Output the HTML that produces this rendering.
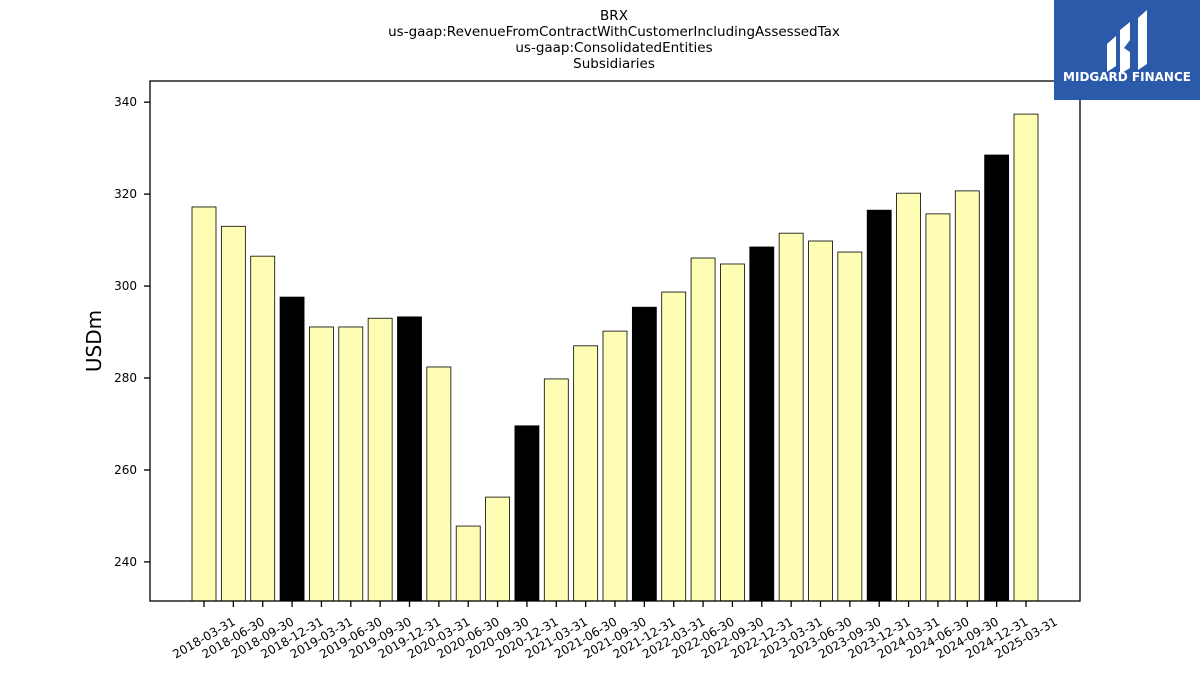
<!DOCTYPE html>
<html><head><meta charset="utf-8"><style>
body{margin:0;background:#fff;font-family:"DejaVu Sans","Liberation Sans",sans-serif}
</style></head><body>
<svg width="1200" height="675" viewBox="0 0 1200 675" style="display:block">
<g font-size="13.5" text-anchor="middle" fill="#000">
<text x="614" y="20">BRX</text>
<text x="614" y="36">us-gaap:RevenueFromContractWithCustomerIncludingAssessedTax</text>
<text x="614" y="52">us-gaap:ConsolidatedEntities</text>
<text x="614" y="68">Subsidiaries</text>
</g>
<g id="bars"></g>
<rect x="150" y="81" width="930" height="520" fill="none" stroke="#000" stroke-width="1.3"/>
<g id="yaxis"></g>
<g id="xaxis"></g>
<text x="101" y="341" font-size="20" text-anchor="middle" transform="rotate(-90 101 341)">USDm</text>
<g>
<rect x="1054" y="0" width="146" height="100" fill="#2c5aab"/>
<path d="M1107 44 L1116 36 L1116 66 L1107 72 Z" fill="#fff"/>
<path d="M1120 30 L1130 22 L1130 40 L1124 48 L1130 52 L1130 68 L1120 74 Z" fill="#fff"/>
<path d="M1138 18 L1147 10 L1147 64 L1138 70 Z" fill="#fff"/>
<text x="1127" y="81" font-size="12" font-weight="bold" fill="#fff" text-anchor="middle">MIDGARD FINANCE</text>
</g>
</svg>
<script>
const categories=["2018-03-31","2018-06-30","2018-09-30","2018-12-31","2019-03-31","2019-06-30","2019-09-30","2019-12-31","2020-03-31","2020-06-30","2020-09-30","2020-12-31","2021-03-31","2021-06-30","2021-09-30","2021-12-31","2022-03-31","2022-06-30","2022-09-30","2022-12-31","2023-03-31","2023-06-30","2023-09-30","2023-12-31","2024-03-31","2024-06-30","2024-09-30","2024-12-31","2025-03-31"];
const values=[317.2,313.0,306.5,297.6,291.1,291.1,293.0,293.3,282.4,247.8,254.1,269.6,279.8,287.0,290.2,295.4,298.7,306.1,304.8,308.5,311.5,309.8,307.4,316.5,320.2,315.7,320.7,328.5,337.4];
const yTicks=[240,260,280,300,320,340];
const NS="http://www.w3.org/2000/svg";
const yMin=231.5,yMax=344.6,plotTop=81,plotBot=601;
const y=v=>plotBot-(v-yMin)/(yMax-yMin)*(plotBot-plotTop);
const x=i=>204+i*(1026-204)/(categories.length-1);
const bars=document.getElementById('bars'),xa=document.getElementById('xaxis'),ya=document.getElementById('yaxis');
function mk(t,a){const e=document.createElementNS(NS,t);for(const k in a)e.setAttribute(k,a[k]);return e;}
categories.forEach((c,i)=>{
 const r=mk('rect',{x:x(i)-12,y:y(values[i]),width:24,height:plotBot-y(values[i]),fill:c.endsWith('12-31')?'#000':'#fdfdb4',stroke:'#000','stroke-width':0.8});
 
 
 bars.appendChild(r);
 const t=mk('line',{x1:x(i),x2:x(i),y1:plotBot,y2:plotBot+6,stroke:'#000','stroke-width':1.3});
 
 
 xa.appendChild(t);
 const l=mk('text',{x:x(i),y:642,'font-size':12,'text-anchor':'middle',transform:`rotate(-30 ${x(i)} 638)`});
 
 
 l.textContent=c;xa.appendChild(l);
});
yTicks.forEach(v=>{
 const t=mk('line',{x1:144,x2:150,y1:y(v),y2:y(v),stroke:'#000','stroke-width':1.3});
 
 
 ya.appendChild(t);
 const l=mk('text',{x:137,y:y(v)+4,'font-size':12,'text-anchor':'end'});
 
 
 l.textContent=v;ya.appendChild(l);
});
</script>
</body></html>
